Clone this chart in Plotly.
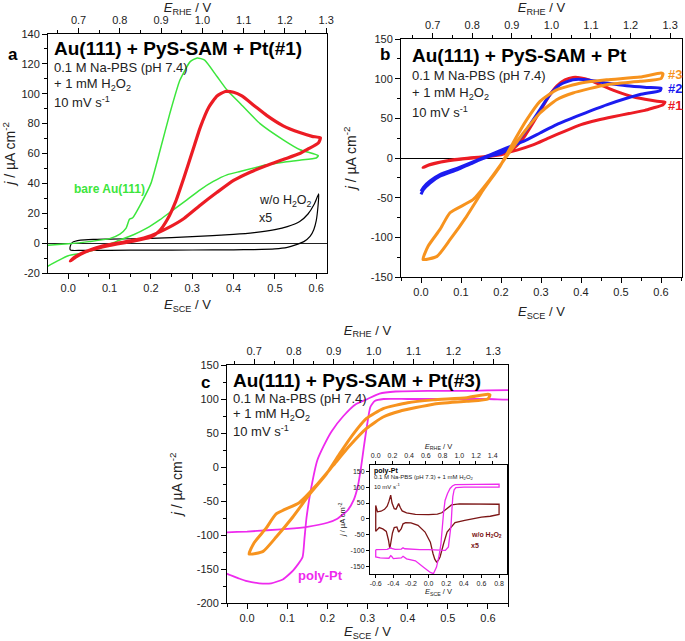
import plotly.graph_objects as go

# ---------------- data (E_SCE / V , j / uA cm-2) ----------------
# panel a: bare Au(111) in H2O2 (green loop)
bare_e = [-0.07, -0.05, 0.0, 0.05, 0.1, 0.125, 0.14, 0.148, 0.156, 0.175, 0.2, 0.222, 0.246, 0.27, 0.295, 0.312, 0.33,
          0.36, 0.384, 0.416, 0.464, 0.521, 0.561, 0.605,
          0.6, 0.56, 0.521, 0.48, 0.416, 0.384, 0.351, 0.319, 0.287, 0.254, 0.222, 0.19, 0.158, 0.117, 0.077, 0.036,
          0.0, -0.028, -0.05, -0.07]
bare_j = [-2, -1.5, -0.5, 1, 3, 6, 10, 16, 17, 26, 40, 62, 87, 109, 121.5, 124, 122.5,
          111.5, 102.5, 93.5, 80, 69, 62.5, 58.5,
          57, 55.5, 54.2, 52.4, 48, 45.7, 41.3, 35.7, 29, 22.3, 15.7, 10, 5.6, 1.2, -3.3, -6.6,
          -8.4, -12.2, -15.5, -19]

# Au(111) + PyS-SAM + Pt(#1) (red loop, panels a and b)
pt1_e = [0.005, 0.02, 0.05, 0.1, 0.15, 0.2, 0.22, 0.24, 0.26, 0.28, 0.30, 0.32, 0.34, 0.36, 0.38, 0.40, 0.42, 0.45,
         0.48, 0.52, 0.56, 0.59, 0.61,
         0.605, 0.58, 0.56, 0.52, 0.48, 0.44, 0.40, 0.36, 0.32, 0.28, 0.24, 0.20, 0.16, 0.12, 0.08, 0.04, 0.015, 0.005]
pt1_j = [-12, -9, -5, -1.5, 1, 4, 8, 16, 28, 44, 61, 78, 91, 98.5, 101.5, 101, 98.5, 92,
         85.5, 78.5, 74, 71.5, 70.5,
         67, 63, 60, 56, 52, 47.5, 42, 34, 25.5, 16.5, 10, 5, 2, 0, -2.2, -6, -9.5, -12]

# w/o H2O2 x5 (black loop)
blank_e = [0.005, 0.01, 0.03, 0.06, 0.1, 0.2, 0.3, 0.4, 0.45, 0.5, 0.53, 0.56, 0.58, 0.595, 0.606,
           0.604, 0.6, 0.594, 0.585, 0.57, 0.55, 0.53, 0.5, 0.45, 0.4, 0.3, 0.2, 0.1, 0.03, 0.01, 0.005, 0.005]
blank_j = [-2, 0.5, 2, 2.5, 2.7, 3.2, 4.3, 5.8, 7, 9, 11, 14.5, 19.5, 26, 33,
           24, 15, 9, 4.5, 1, -1.2, -2.8, -3.8, -4.3, -4.5, -4.6, -4.7, -4.8, -4.9, -4.9, -4.5, -2]

# panel b: Pt(#2) (blue loop)
pt2_e = [0.0, 0.006, 0.0225, 0.0475, 0.09, 0.13, 0.17, 0.2, 0.23, 0.264, 0.2975, 0.3225, 0.3475, 0.38, 0.414, 0.464,
         0.514, 0.564, 0.6,
         0.598, 0.5475, 0.464, 0.4, 0.339, 0.2975, 0.256, 0.214, 0.1725, 0.13, 0.09, 0.0475, 0.0225, 0.006, 0.0]
pt2_j = [-46, -40, -31.5, -23, -15, -6, 2, 6, 14.7, 35.7, 61, 80, 92.4, 98.7, 98.7, 94.5,
         91, 89, 88,
         85, 80, 67, 54.6, 42, 31.5, 21, 12.6, 4, -5, -13, -21, -29, -37, -42]

# Pt(#3) (orange loop, panels b and c)
pt3_e = [0.005, 0.04, 0.0725, 0.114, 0.156, 0.1975, 0.23, 0.264, 0.2975, 0.339, 0.4, 0.464, 0.5475, 0.6, 0.605,
         0.6, 0.5475, 0.464, 0.38, 0.339, 0.2975, 0.256, 0.214, 0.1725, 0.13, 0.0725, 0.0475, 0.018, 0.005]
pt3_j = [-128, -124, -103, -73.5, -40, -10.5, 19, 48, 71.4, 86, 94.5, 98.7, 102, 107, 106,
         100, 96.6, 92.4, 82, 73.5, 56.7, 31.5, 2, -27, -52.5, -69, -90, -111, -128]

# panel c: poly-Pt in H2O2 (magenta)
polypt_e = [-0.1, -0.05, -0.02, 0.0, 0.03, 0.06, 0.09, 0.115, 0.138, 0.143, 0.148, 0.16, 0.175, 0.19, 0.21, 0.24,
            0.27, 0.3, 0.33, 0.37, 0.45, 0.55, 0.7,
            0.7, 0.6, 0.5, 0.4, 0.34, 0.318, 0.307, 0.299, 0.291, 0.284, 0.276, 0.266, 0.25, 0.225, 0.2, 0.15, 0.1,
            0.05, 0.0, -0.05, -0.1]
polypt_j = [-148, -157, -164, -168, -171, -171, -165, -152, -133, -105, -75, -30, 10, 30, 52, 75,
            92, 100, 108, 111, 112, 112, 111,
            100, 100, 100, 100, 100, 97, 88, 62, 30, 0, -28, -48, -64, -76, -82, -88, -91,
            -93, -95, -96, -97]

# inset: poly-Pt with H2O2 (magenta) and w/o H2O2 x5 (dark red)
inset_h2o2_e = [-0.6, -0.55, -0.47, -0.44, -0.43, -0.42, -0.38, -0.31, -0.29, -0.27, -0.2, -0.1, 0.0, 0.1, 0.15, 0.19,
                0.225, 0.245, 0.255, 0.265, 0.275, 0.29, 0.31, 0.4, 0.6, 0.8,
                0.8, 0.6, 0.4, 0.3, 0.27, 0.244, 0.215, 0.187, 0.17, 0.157, 0.14, 0.12, 0.09, 0.055, 0.02, -0.05,
                -0.15, -0.25, -0.28, -0.29, -0.31, -0.4, -0.42, -0.43, -0.45, -0.55, -0.6, -0.6]
inset_h2o2_j = [-98, -98, -97, -93, -91, -94, -97, -96, -92, -95, -97, -98, -98, -99, -99, -100,
                -89, -45, -20, 30, 70, 92, 99, 100, 100, 100,
                110, 109, 109, 108, 104, 96, 80, 58, 20, -26, -80, -115, -153, -174, -170, -155,
                -133, -127, -122, -119, -124, -126, -119, -117, -125, -124, -121, -98]

inset_blank_e = [-0.6, -0.6, -0.58, -0.54, -0.5, -0.47, -0.45, -0.43, -0.415, -0.39, -0.37, -0.35, -0.34, -0.32, -0.3,
                 -0.25, -0.15, 0.0, 0.1, 0.15, 0.2, 0.26, 0.35, 0.5, 0.7, 0.8,
                 0.8, 0.7, 0.6, 0.5, 0.41, 0.3, 0.26, 0.21, 0.17, 0.13, 0.11, 0.09, 0.07, 0.05, 0.02, -0.04,
                 -0.12, -0.2, -0.26, -0.29, -0.31, -0.34, -0.36, -0.39, -0.41, -0.43, -0.44, -0.455, -0.48, -0.52,
                 -0.56, -0.6]
inset_blank_j = [-40, 42, 22, 24, 30, 40, 55, 75, 50, 32, 30, 40, 48, 35, 25,
                 19, 14, 13, 15, 19, 30, 44, 47, 46, 45, 46,
                 14, 8, 5, 1, -5, -12, -26, -42, -79, -121, -132, -137, -128, -110, -74, -42,
                 -21, -13, -12, -16, -31, -42, -26, -28, -45, -80, -95, -68, -40, -32,
                 -28, -40]

# tick values (labels written with a plain hyphen as in the original)
rhe_ticks = [0.7, 0.8, 0.9, 1.0, 1.1, 1.2, 1.3]
inset_rhe_ticks = [0.0, 0.2, 0.4, 0.6, 0.8, 1.0, 1.2, 1.4]
j_ticks_a = [-20, 0, 20, 40, 60, 80, 100, 120, 140]
j_ticks_b = [-150, -100, -50, 0, 50, 100, 150]
j_ticks_c = [-200, -150, -100, -50, 0, 50, 100, 150]
j_ticks_inset = [-150, -100, -50, 0, 50, 100, 150]
e_ticks_inset = [-0.6, -0.4, -0.2, 0.0, 0.2, 0.4, 0.6, 0.8]

W, H = 685, 641
FONT = "Arial, Liberation Sans, sans-serif"
TXT = "#222222"

GREEN = "#3ce63c"
RED = "#ec1c24"
BLUE = "#1c1cf0"
ORANGE = "#f7931e"
MAGENTA = "#ee2aee"
DARKRED = "#7b1515"


def xdom(left, right):
    return [left / W, right / W]


def ydom(top, bottom):
    return [1 - bottom / H, 1 - top / H]


def hyphen_ticks(vals, fmt="{:g}"):
    return dict(tickmode="array", tickvals=vals, ticktext=[fmt.format(v) for v in vals])


def axis(size=11, tsize=13, minor=None, standoff=None, title=None, **kw):
    d = dict(showline=True, linecolor="black", linewidth=1, ticks="outside",
             ticklen=5, tickwidth=1, tickcolor="black", showgrid=False,
             zeroline=False, automargin=False, tickfont=dict(size=size, color=TXT))
    if minor:
        d["minor"] = dict(dtick=minor, tick0=0, ticks="outside", ticklen=3, tickcolor="black", tickwidth=1)
    if title:
        d["title"] = dict(text=title, font=dict(size=tsize, color=TXT), standoff=standoff)
    d.update(kw)
    return d


def curve(x, y, color, width, xa, ya, shape="spline"):
    line = dict(color=color, width=width, shape=shape)
    if shape == "spline":
        line["smoothing"] = 0.5
    return go.Scatter(x=x, y=y, mode="lines", line=line, xaxis=xa, yaxis=ya,
                      hoverinfo="skip", showlegend=False)


def top_axis_holder(ticks, xa, ya):
    # no visible marks, only makes plotly build the top RHE axis
    return go.Scatter(x=ticks, y=[None] * len(ticks), mode="lines", xaxis=xa, yaxis=ya,
                      hoverinfo="skip", showlegend=False)


def note(text, x, y, xref, yref, size=13, color=TXT, bold=False, xanchor="left"):
    if bold:
        text = "<b>" + text + "</b>"
    return dict(text=text, x=x, y=y, xref=xref, yref=yref, showarrow=False,
                xanchor=xanchor, yanchor="middle", font=dict(size=size, color=color, family=FONT))


E_SCE = "<i>E</i><sub>SCE</sub> / V"
E_RHE = "<i>E</i><sub>RHE</sub> / V"
J_LBL = "<i>j</i> / µA cm<sup>-2</sup>"

fig = go.Figure()

# panel a
fig.add_trace(curve(blank_e, blank_j, "black", 1.2, "x", "y"))
fig.add_trace(curve(bare_e, bare_j, GREEN, 1.5, "x", "y"))
fig.add_trace(curve(pt1_e, pt1_j, RED, 3.2, "x", "y"))
fig.add_trace(top_axis_holder(rhe_ticks, "x2", "y"))
# panel b
fig.add_trace(curve(pt1_e, pt1_j, RED, 3, "x3", "y2"))
fig.add_trace(curve(pt2_e, pt2_j, BLUE, 3, "x3", "y2"))
fig.add_trace(curve(pt3_e, pt3_j, ORANGE, 3, "x3", "y2"))
fig.add_trace(top_axis_holder(rhe_ticks, "x4", "y2"))
# panel c
fig.add_trace(curve(polypt_e, polypt_j, MAGENTA, 1.8, "x5", "y3"))
fig.add_trace(curve(pt3_e, pt3_j, ORANGE, 3, "x5", "y3"))
fig.add_trace(top_axis_holder(rhe_ticks, "x6", "y3"))
# inset
fig.add_trace(curve(inset_blank_e, inset_blank_j, DARKRED, 1.3, "x7", "y4", shape="linear"))
fig.add_trace(curve(inset_h2o2_e, inset_h2o2_j, MAGENTA, 1.3, "x7", "y4", shape="linear"))
fig.add_trace(top_axis_holder(inset_rhe_ticks, "x8", "y4"))

fig.update_layout(
    width=W, height=H,
    margin=dict(l=0, r=0, t=0, b=0, autoexpand=False),
    paper_bgcolor="white", plot_bgcolor="white",
    font=dict(family=FONT, color=TXT),
    showlegend=False,
    # panel a
    xaxis=axis(domain=xdom(48, 327), range=[-0.049, 0.626], dtick=0.1, tick0=0, tickformat=".1f",
               minor=0.05, anchor="y", title=E_SCE, standoff=6),
    xaxis2=axis(overlaying="x", side="top", anchor="y", range=[0.626, 1.302], dtick=0.1, tick0=0.7,
                tickformat=".1f", minor=0.05, title=E_RHE, standoff=6),
    yaxis=axis(domain=ydom(34, 273), range=[-20, 140], minor=10, anchor="x", mirror=True,
               zeroline=True, zerolinecolor="#222", zerolinewidth=1, title=J_LBL, tsize=14, standoff=10,
               **hyphen_ticks(j_ticks_a)),
    # panel b
    xaxis3=axis(domain=xdom(401, 682), range=[-0.05, 0.6525], dtick=0.1, tick0=0, tickformat=".1f",
                minor=0.05, anchor="y2", title=E_SCE, standoff=9),
    xaxis4=axis(overlaying="x3", side="top", anchor="y2", range=[0.62, 1.33], dtick=0.1, tick0=0.7,
                tickformat=".1f", minor=0.05, title=E_RHE, standoff=6),
    yaxis2=axis(domain=ydom(39, 277), range=[-150, 150], minor=25, anchor="x3", mirror=True,
                zeroline=True, zerolinecolor="black", zerolinewidth=1, title=J_LBL, tsize=14, standoff=10,
                **hyphen_ticks(j_ticks_b)),
    # panel c
    xaxis5=axis(domain=xdom(227, 508), range=[-0.05, 0.65], dtick=0.1, tick0=0, tickformat=".1f",
                minor=0.05, anchor="y3", title=E_SCE, standoff=6),
    xaxis6=axis(overlaying="x5", side="top", anchor="y3", range=[0.632, 1.337], dtick=0.1, tick0=0.7,
                tickformat=".1f", minor=0.05, title=E_RHE, standoff=6),
    yaxis3=axis(domain=ydom(365, 603), range=[-200, 150], minor=25, anchor="x5", mirror=True,
                title=J_LBL, tsize=14, standoff=10, **hyphen_ticks(j_ticks_c)),
    # inset
    xaxis7=axis(domain=xdom(370, 507), range=[-0.665, 0.89], anchor="y4", size=7, tsize=7.5, ticklen=3,
                title=E_SCE, standoff=1, **hyphen_ticks(e_ticks_inset, "{:.1f}")),
    xaxis8=axis(overlaying="x7", side="top", anchor="y4", range=[-0.068, 1.571], dtick=0.2, tick0=0,
                tickformat=".1f", size=7, tsize=7.5, ticklen=3, title=E_RHE, standoff=1),
    yaxis4=axis(domain=ydom(464.5, 574), range=[-175, 172], anchor="x7", mirror=True,
                size=7, tsize=7.5, ticklen=3, title=J_LBL, standoff=3, **hyphen_ticks(j_ticks_inset)),
)

annotations = [
    # panel letters
    note("a", 13 / W, 1 - 54 / H, "paper", "paper", size=17, bold=True, color="black", xanchor="center"),
    note("b", 385 / W, 1 - 54 / H, "paper", "paper", size=17, bold=True, color="black", xanchor="center"),
    note("c", 205 / W, 1 - 382 / H, "paper", "paper", size=17, bold=True, color="black", xanchor="center"),
    # panel a
    note("Au(111) + PyS-SAM + Pt(#1)", -0.040, 130.4, "x", "y", size=19, bold=True, color="black"),
    note("0.1 M Na-PBS (pH 7.4)", -0.040, 117.9, "x", "y"),
    note("+ 1 mM H<sub>2</sub>O<sub>2</sub>", -0.040, 106.2, "x", "y"),
    note("10 mV s<sup>-1</sup>", -0.040, 94.5, "x", "y"),
    note("bare Au(111)", 0.008, 36, "x", "y", size=12, bold=True, color=GREEN),
    note("w/o H<sub>2</sub>O<sub>2</sub>", 0.456, 28, "x", "y", size=12.5),
    note("x5", 0.456, 16.8, "x", "y", size=12.5),
    # panel b
    note("Au(111) + PyS-SAM + Pt", -0.0275, 128.6, "x3", "y2", size=19, bold=True, color="black"),
    note("0.1 M Na-PBS (pH 7.4)", -0.0275, 103.4, "x3", "y2"),
    note("+ 1 mM H<sub>2</sub>O<sub>2</sub>", -0.0275, 80.7, "x3", "y2"),
    note("10 mV s<sup>-1</sup>", -0.0275, 58, "x3", "y2"),
    note("#3", 0.612, 105, "x3", "y2", size=13, bold=True, color=ORANGE),
    note("#2", 0.612, 87, "x3", "y2", size=13, bold=True, color=BLUE),
    note("#1", 0.612, 66, "x3", "y2", size=13, bold=True, color=RED),
    # panel c
    note("Au(111) + PyS-SAM + Pt(#3)", -0.039, 127, "x5", "y3", size=19, bold=True, color="black"),
    note("0.1 M Na-PBS (pH 7.4)", -0.039, 100.5, "x5", "y3"),
    note("+ 1 mM H<sub>2</sub>O<sub>2</sub>", -0.039, 77, "x5", "y3"),
    note("10 mV s<sup>-1</sup>", -0.039, 53, "x5", "y3"),
    note("poly-Pt", 0.122, -160, "x5", "y3", size=13, bold=True, color=MAGENTA),
    # inset
    note("poly-Pt", -0.642, 152, "x7", "y4", size=7, bold=True, color="black"),
    note("0.1 M Na-PBS (pH 7.3) + 1 mM H<sub>2</sub>O<sub>2</sub>", -0.642, 131, "x7", "y4", size=6),
    note("10 mV s<sup>-1</sup>", -0.642, 104, "x7", "y4", size=6),
    note("w/o H<sub>2</sub>O<sub>2</sub>", 0.46, -50, "x7", "y4", size=7, bold=True, color=DARKRED),
    note("x5", 0.46, -85, "x7", "y4", size=7, bold=True, color=DARKRED),
]
fig.update_layout(annotations=annotations)

# the page's default body margin would shift the figure by 8 px
fig.write_html("out.html", config={"displayModeBar": False},
               post_script="document.body.style.margin = '0';")
